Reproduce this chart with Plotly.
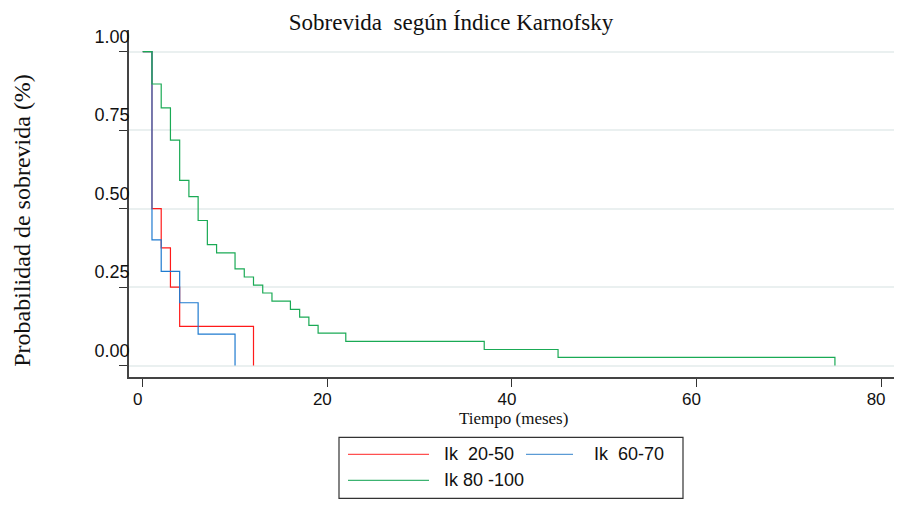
import plotly.graph_objects as go

# ---------------- data ----------------
series_names = ["Ik  20-50", "Ik  60-70", "Ik 80 -100"]

t_20_50 = [0, 1, 2, 3, 4, 12]
s_20_50 = [1.0, 0.5, 0.375, 0.25, 0.125, 0.0]

t_60_70 = [0, 1, 2, 4, 6, 10]
s_60_70 = [1.0, 0.4, 0.3, 0.2, 0.1, 0.0]

t_80_100 = [0, 1, 2, 3, 4, 5, 6, 7, 8, 10, 11, 12, 13, 14, 16, 17, 18, 19, 22, 37, 45, 75]
s_80_100 = [1.0, 0.897, 0.821, 0.718, 0.590, 0.538, 0.462, 0.385, 0.359, 0.308, 0.282,
            0.256, 0.231, 0.205, 0.179, 0.154, 0.128, 0.103, 0.077, 0.051, 0.026, 0.0]

y_tick_vals = [0, 0.25, 0.5, 0.75, 1.0]
y_tick_text = ["0.00", "0.25", "0.50", "0.75", "1.00"]
x_tick_vals = [0, 20, 40, 60, 80]
x_tick_text = ["0", "20", "40", "60", "80"]

line_colors = ["#ff1a1a", "#1f7bd0", "#1aaa55"]
legend_colors = ["#ff5050", "#5b9bd5", "#3cb371"]

title_text = "Sobrevida  según Índice Karnofsky"
x_title = "Tiempo (meses)"
y_title = "Probabilidad de sobrevida (%)"

# ---------------- layout geometry ----------------
W, H = 899, 507
L, R, T, B = 129, 5, 30, 129.5
plot_w = W - L - R
plot_h = H - T - B


def px_x(px):
    return (px - L) / plot_w


def px_y(py):
    return (H - B - py) / plot_h


SERIF = "Liberation Serif, Times New Roman, serif"
SANS = "Liberation Sans, Arial, sans-serif"
NARROW = "Liberation Sans Narrow, Arial Narrow, Liberation Sans, sans-serif"

fig = go.Figure()
all_t = [t_20_50, t_60_70, t_80_100]
all_s = [s_20_50, s_60_70, s_80_100]
for name, tt, ss, col in zip(series_names, all_t, all_s, line_colors):
    fig.add_trace(go.Scatter(
        x=tt, y=ss, mode="lines", name=name,
        line=dict(color=col, width=1.2, shape="hv"),
        showlegend=False,
    ))

fig.update_layout(
    width=W, height=H,
    margin=dict(l=L, r=R, t=T, b=B),
    paper_bgcolor="white", plot_bgcolor="white",
    title=dict(text=title_text, x=451 / W, xanchor="center", y=1 - 22 / H, yanchor="middle",
               font=dict(family=SERIF, size=23, color="#111")),
    showlegend=False,
)

fig.update_xaxes(
    range=[-1.49, 81.4],
    tickvals=x_tick_vals, ticktext=x_tick_text,
    ticks="outside", ticklen=8, tickwidth=1, tickcolor="#333",
    ticklabelshift=-5, ticklabelstandoff=-2,
    tickfont=dict(family=NARROW, size=17, color="#111"),
    showline=True, linecolor="#444", linewidth=1.5,
    showgrid=False, zeroline=False,
)

# x axis title
fig.add_annotation(
    text=x_title, xref="paper", yref="paper",
    x=px_x(513), y=px_y(419), showarrow=False,
    xanchor="center", yanchor="middle",
    font=dict(family=SERIF, size=17, color="#111"),
)

fig.update_yaxes(
    range=[-0.0366, 1.069],
    tickvals=y_tick_vals, ticktext=y_tick_text,
    ticks="outside", ticklen=8, tickwidth=1, tickcolor="#333",
    ticklabelshift=-15, ticklabelstandoff=-14,
    tickfont=dict(family=SANS, size=18, color="#111"),
    showline=True, linecolor="#444", linewidth=1.5,
    showgrid=True, gridcolor="#eaf0f0", gridwidth=1.5, zeroline=False,
    title=None,
)

# y axis title
fig.add_annotation(
    text=y_title, xref="paper", yref="paper",
    x=px_x(22), y=px_y(221), textangle=-90, showarrow=False,
    xanchor="center", yanchor="middle",
    font=dict(family=SERIF, size=24, color="#111"),
)

# ---------------- manual legend ----------------
box = (339, 438, 683, 499)
fig.add_shape(type="rect", xref="paper", yref="paper",
              x0=px_x(box[0]), x1=px_x(box[2]), y0=px_y(box[3]), y1=px_y(box[1]),
              line=dict(color="#333", width=1.2), fillcolor="white", layer="above")

legend_items = [
    (348, 429, 455, 442),
    (526, 573, 455, 592),
    (348, 429, 481, 442),
]
for (x0, x1, yy, tx), name, col in zip(legend_items, series_names, legend_colors):
    fig.add_shape(type="line", xref="paper", yref="paper",
                  x0=px_x(x0), x1=px_x(x1), y0=px_y(yy), y1=px_y(yy),
                  line=dict(color=col, width=1.2))
    fig.add_annotation(text=name, xref="paper", yref="paper",
                       x=px_x(tx), y=px_y(yy), xanchor="left", yanchor="middle",
                       showarrow=False, font=dict(family=SANS, size=18, color="#111"))

fig.write_html("out.html")
